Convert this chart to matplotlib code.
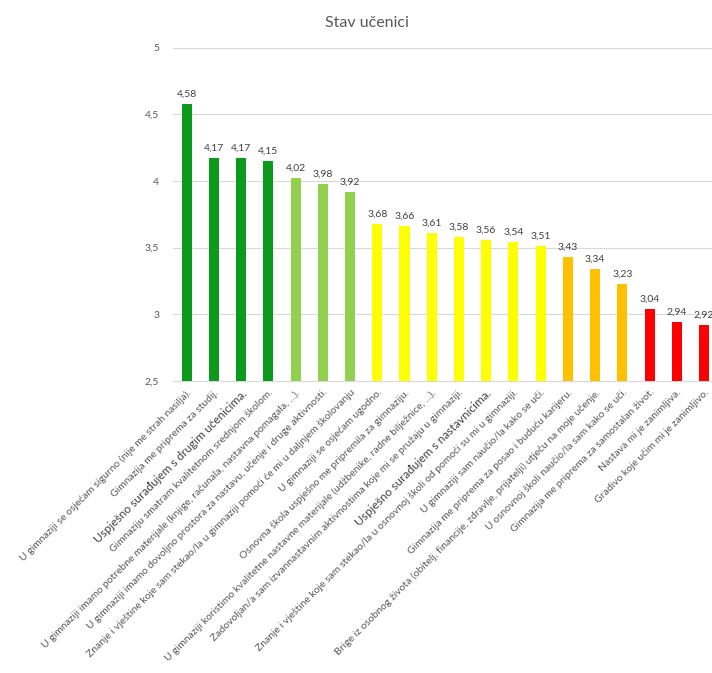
import matplotlib.pyplot as plt

plt.rcParams['font.family'] = ['Lato', 'DejaVu Sans']

labels = [
    'U gimnaziji se osjećam sigurno (nije me strah nasilja).',
    'Gimnazija me priprema za studij.',
    'Uspješno surađujem s drugim učenicima.',
    'Gimnaziju smatram kvalitetnom srednjom školom.',
    'U gimnaziji imamo potrebne materijale (knjige, računala, nastavna pomagala, ...).',
    'U gimnaziji imamo dovoljno prostora za nastavu, učenje i druge aktivnosti.',
    'Znanje i vještine koje sam stekao/la u gimnaziji pomoći će mi u daljnjem školovanju',
    'U gimnaziji se osjećam ugodno.',
    'Osnovna škola uspješno me pripremila za gimnaziju.',
    'U gimnaziji koristimo kvalitetne nastavne materijale (udžbenike, radne bilježnice, ...).',
    'Zadovoljan/a sam izvannastavnim aktivnostima koje mi se pružaju u gimnaziji.',
    'Uspješno surađujem s nastavnicima.',
    'Znanje i vještine koje sam stekao/la u osnovnoj školi od pomoći su mi u gimnaziji.',
    'U gimnaziji sam naučio/la kako se uči.',
    'Gimnazija me priprema za posao i buduću karijeru.',
    'Brige iz osobnog života (obitelj, financije, zdravlje, prijatelji) utječu na moje učenje.',
    'U osnovnoj školi naučio/la sam kako se uči.',
    'Gimnazija me priprema za samostalan život.',
    'Nastava mi je zanimljiva.',
    'Gradivo koje učim mi je zanimljivo.',
]
values = [4.58, 4.17, 4.17, 4.15, 4.02, 3.98, 3.92, 3.68, 3.66, 3.61,
          3.58, 3.56, 3.54, 3.51, 3.43, 3.34, 3.23, 3.04, 2.94, 2.92]
groups = ['dg'] * 4 + ['lg'] * 3 + ['y'] * 7 + ['o'] * 3 + ['r'] * 3
group_colors = {'dg': '#0b9a1b', 'lg': '#92d050', 'y': '#ffff00',
                'o': '#ffc000', 'r': '#ff0000'}
yticks = [2.5, 3, 3.5, 4, 4.5, 5]

fig = plt.figure(figsize=(7.12, 6.73), dpi=100)
ax = fig.add_axes([0.243, 0.434, 0.765, 0.495])

x = list(range(len(values)))
ax.bar(x, values, 0.37, color=[group_colors[g] for g in groups], zorder=3)

for i, v in zip(x, values):
    ax.text(i, v + 0.04, f'{v:.2f}'.replace('.', ','), ha='center', va='bottom',
            fontsize=7.5, color='#404040')

ax.set_xlim(-0.5, len(values) - 0.5)
ax.set_ylim(2.5, 5)
ax.set_yticks(yticks)
ax.set_yticklabels([f'{t:g}'.replace('.', ',') for t in yticks], fontsize=7.5, color='#595959')
ax.yaxis.grid(True, color='#d9d9d9', linewidth=0.8, zorder=0)
ax.tick_params(axis='y', length=0, pad=10)
ax.tick_params(axis='x', length=0, pad=5)
for s in ['top', 'right', 'left']:
    ax.spines[s].set_visible(False)
ax.spines['bottom'].set_color('#d9d9d9')

ax.set_xticks(x)
ax.set_xticklabels(labels, rotation=45, ha='right', rotation_mode='anchor',
                   fontsize=7.5, color='#595959')
for lbl in ax.get_xticklabels():
    if lbl.get_text().startswith('Uspješno'):
        lbl.set_fontsize(8.6)
        lbl.set_color('#404040')

fig.text(0.515, 0.966, 'Stav učenici', ha='center', va='center', fontsize=11.5, color='#595959')

fig.savefig('out.png', dpi=100)
